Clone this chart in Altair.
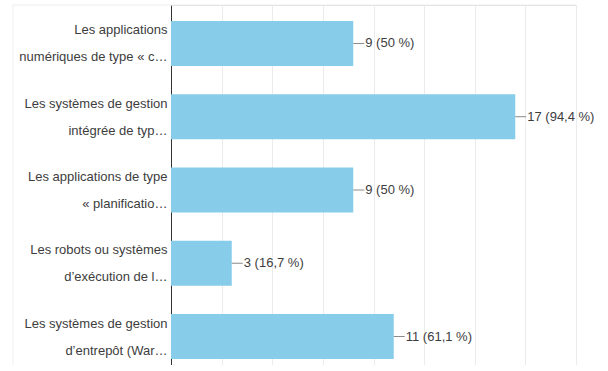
import altair as alt
import pandas as pd

# Answer options (wrapped and truncated as displayed)
options = [
    "Les applications\nnumériques de type « c…",
    "Les systèmes de gestion\nintégrée de typ…",
    "Les applications de type\n« planificatio…",
    "Les robots ou systèmes\nd’exécution de l…",
    "Les systèmes de gestion\nd’entrepôt (War…",
]
counts = [9, 17, 9, 3, 11]
percents = ["50", "94,4", "50", "16,7", "61,1"]
grid_values = [0, 2.5, 5, 7.5, 10, 12.5, 15, 17.5, 20]

df = pd.DataFrame({
    "option": options,
    "count": counts,
    "label": [f"{c} ({p} %)" for c, p in zip(counts, percents)],
})

W, H = 405, 360
FONT = "Liberation Sans"
BLUE = "#87cdea"

y_enc = alt.Y(
    "option:N",
    sort=None,
    title=None,
    scale=alt.Scale(paddingInner=0.386, paddingOuter=0.15, align=0.727),
    axis=alt.Axis(
        labelExpr="split(datum.label, '\\n')",
        labelLineHeight=27,
        labelFontSize=13,
        labelFont=FONT,
        labelColor="#3d3d3d",
        labelPadding=4,
        labelLimit=200,
        labelOffset=-13,
        ticks=False,
        domainColor="#333333",
        domainWidth=1,
        grid=False,
    ),
)
x_enc = alt.X(
    "count:Q",
    title=None,
    scale=alt.Scale(domain=[0, 20], nice=False),
    axis=alt.Axis(
        values=grid_values,
        labels=False,
        ticks=False,
        domain=False,
        grid=True,
        gridColor="#ebebeb",
    ),
)

base = alt.Chart(df)

bars = base.mark_bar(color=BLUE).encode(x=x_enc, y=y_enc)

leaders = base.mark_rule(color="#8a8a8a", strokeWidth=1, x2Offset=11).encode(
    x="count:Q", x2="count:Q", y=alt.Y("option:N", sort=None, bandPosition=0.5)
)

values = base.mark_text(
    align="left", baseline="middle", dx=12, fontSize=13, font=FONT, color="#3d3d3d"
).encode(
    x="count:Q",
    y=alt.Y("option:N", sort=None, bandPosition=0.5),
    text="label:N",
)

# faint frame around the whole chart block
one = alt.Chart(pd.DataFrame({"a": [0]}))
frame_top = one.mark_rule(color="#ececec").encode(
    x=alt.value(-158), x2=alt.value(W), y=alt.value(0)
)
frame_left = one.mark_rule(color="#efefef").encode(
    x=alt.value(-158), y=alt.value(0), y2=alt.value(H)
)

chart = (
    alt.layer(frame_top, frame_left, bars, leaders, values)
    .properties(
        width=W,
        height=H,
        autosize=alt.AutoSizeParams(type="none"),
        padding={"left": 171, "top": 5, "right": 30, "bottom": 0},
    )
    .configure_view(stroke=None)
    .configure(background="white")
)

chart.save("out.html", embed_options={"renderer": "svg", "actions": False})
